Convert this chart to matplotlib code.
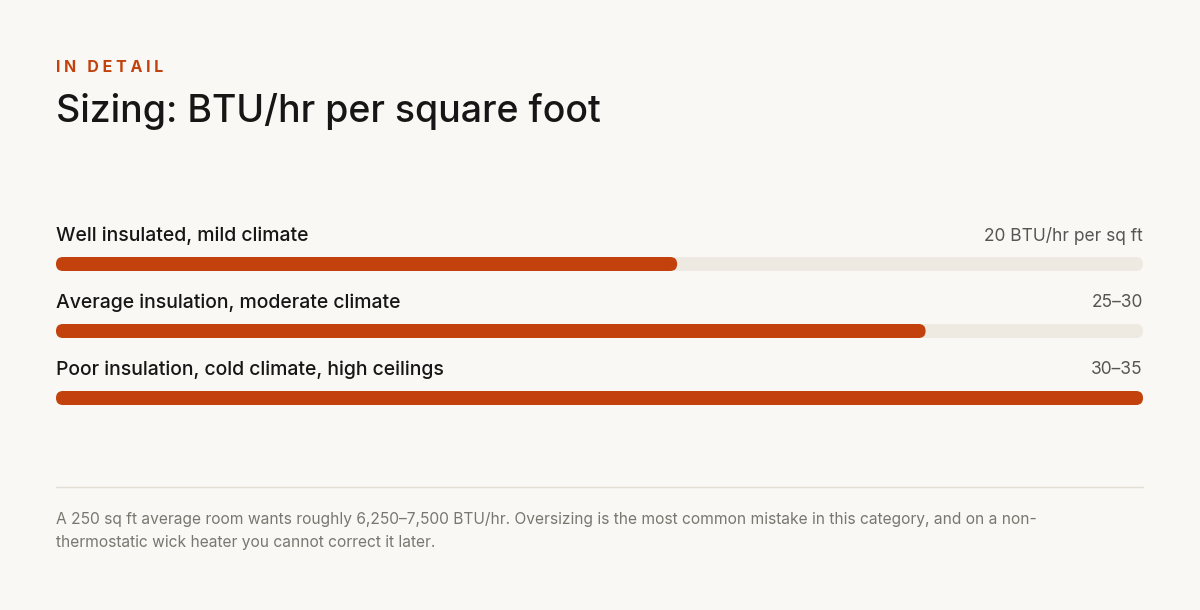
import matplotlib
matplotlib.use("Agg")
import matplotlib.pyplot as plt
from matplotlib.patches import FancyBboxPatch

categories = ["Well insulated, mild climate",
              "Average insulation, moderate climate",
              "Poor insulation, cold climate, high ceilings"]
values = [20, 28, 35]
value_labels = ["20 BTU/hr per sq ft", "25–30", "30–35"]
vmax = 35

W, H = 1200, 610
BG = "#FAF8F4"; TRACK = "#EEE9E1"; BAR = "#C2410C"
plt.rcParams['font.family'] = ['Inter', 'DejaVu Sans']
fig = plt.figure(figsize=(W/100, H/100), dpi=100, facecolor=BG)

def fx(px): return px / W
def fy(py): return 1 - py / H

fig.text(fx(56), fy(67), "I N   D E T A I L", color=BAR, fontsize=11.5, fontweight="bold", va="center")
fig.text(fx(56), fy(112), "Sizing: BTU/hr per square foot", color="#161616", fontsize=27, fontweight="medium", va="center")

left, right, top, bot = 56, 1143, 220, 410
ax = fig.add_axes([fx(left), fy(bot), fx(right-left), (bot-top)/H])
ax.set_xlim(0, vmax); ax.set_ylim(bot, top); ax.axis("off")
xpp = vmax / (right-left)
r = 7 * xpp
asp = 1 / xpp
for i, (c, v, lab) in enumerate(zip(categories, values, value_labels)):
    yc = 264 + 67*i
    for w, col in [(vmax, TRACK), (v, BAR)]:
        ax.add_patch(FancyBboxPatch((0, yc-7), w, 14, boxstyle=f"round,pad=0,rounding_size={r}",
                                    mutation_aspect=asp, fc=col, ec="none"))
    ax.text(0, yc-28, c, fontsize=14, fontweight="medium", color="#161616", va="center", ha="left")
    ax.text(vmax, yc-28, lab, fontsize=12.5, color="#555555", va="center", ha="right")

fig.add_artist(plt.Line2D([fx(56), fx(1143)], [fy(487), fy(487)], color="#E2DDD5", lw=1))
fig.text(fx(56), fy(531), "A 250 sq ft average room wants roughly 6,250–7,500 BTU/hr. Oversizing is the most common mistake in this category, and on a non-\nthermostatic wick heater you cannot correct it later.",
         fontsize=11.2, color="#7a7670", va="center", linespacing=1.6)
fig.savefig("out.png", dpi=100, facecolor=BG)
